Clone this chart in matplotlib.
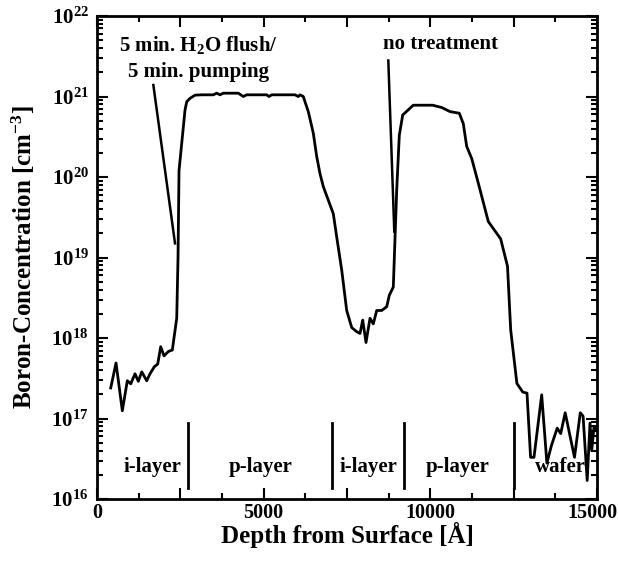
import numpy as np
import matplotlib
matplotlib.use("Agg")
import matplotlib.pyplot as plt
import matplotlib.transforms as mtransforms
from matplotlib.ticker import MultipleLocator, LogLocator, FuncFormatter, NullFormatter

plt.rcParams['font.family'] = ['Liberation Serif', 'DejaVu Serif']
plt.rcParams['font.weight'] = 'bold'
plt.rcParams['mathtext.fontset'] = 'custom'
plt.rcParams['mathtext.rm'] = 'Liberation Serif:bold'
plt.rcParams['mathtext.it'] = 'Liberation Serif:italic:bold'
plt.rcParams['mathtext.bf'] = 'Liberation Serif:bold'
plt.rcParams['mathtext.default'] = 'rm'

# SIMS depth profile
depth = [411, 570, 759, 909, 1011, 1140, 1239, 1341, 1491, 1590, 1719, 1821,
         1911, 2010, 2139, 2259, 2391, 2430, 2460, 2640, 2691, 2790, 2940,
         3141, 3489, 3591, 3690, 3789, 3939, 4239, 4389, 4491, 5091, 5160,
         5241, 5940, 6039, 6090, 6189, 6240, 6339, 6489, 6591, 6690, 6789,
         7089, 7191, 7341, 7491, 7641, 7791, 7890, 7971, 8070, 8190, 8289,
         8391, 8541, 8691, 8769, 8889, 8991, 9069, 9171, 9489, 10071, 10341,
         10590, 10869, 10989, 11091, 11241, 11439, 11739, 11991, 12111, 12315,
         12411, 12597, 12774, 12900, 13008, 13110, 13341, 13497, 13632, 13806,
         13911, 14046, 14325, 14499, 14583, 14706, 14790, 14841, 14910, 15000]
boron = [2.4e17, 4.9e17, 1.25e17, 2.95e17, 2.7e17, 3.6e17, 2.9e17, 3.8e17,
         2.95e17, 3.6e17, 4.4e17, 4.75e17, 7.8e17, 6.0e17, 6.8e17, 7.1e17,
         1.76e18, 1.0e19, 1.2e20, 6.8e20, 8.6e20, 9.5e20, 1.04e21,
         1.05e21, 1.05e21, 1.1e21, 1.05e21, 1.1e21, 1.1e21, 1.1e21, 1.0e21,
         1.05e21, 1.05e21, 1.0e21, 1.05e21, 1.05e21, 1.0e21, 1.05e21, 1.0e21,
         8.6e20, 6.5e20, 3.5e20, 1.8e20, 1.1e20, 7.6e19, 3.5e19, 1.8e19,
         7.0e18, 2.2e18, 1.35e18, 1.2e18, 1.14e18, 1.67e18, 8.8e17, 1.76e18,
         1.5e18, 2.2e18, 2.2e18, 2.45e18, 3.4e18, 4.3e18, 6.9e19, 3.3e20,
         5.9e20, 7.8e20, 7.8e20, 7.3e20, 6.5e20, 6.2e20, 4.6e20, 2.4e20,
         1.7e20, 8.4e19, 2.8e19, 2.0e19, 1.7e19, 7.8e18, 1.26e18, 2.73e17,
         2.13e17, 2.07e17, 3.3e16, 3.3e16, 1.97e17, 2.8e16, 4.6e16, 7.6e16,
         6.5e16, 1.18e17, 3.3e16, 1.18e17, 1.07e17, 1.7e16, 8.8e16, 4.0e16,
         7.9e16, 7.2e16]

x_ticks = [0, 2500, 5000, 7500, 10000, 12500, 15000]
x_tick_labels = ["0", "", "5000", "", "10000", "", "15000"]

layer_bounds = [2730, 7050, 9210, 12510]
layer_names = ["i-layer", "p-layer", "i-layer", "p-layer", "wafer"]
layer_label_x = [1650, 4900, 8130, 10830, 13900]

fig = plt.figure(figsize=(6.18, 5.62), dpi=100)
ax = fig.add_axes([0.157, 0.112, 0.809, 0.8595])

ax.plot(depth, boron, color='black', linewidth=2)

# pointer lines of the annotations
ax.plot([1690, 2340], [1.39e21, 1.5e19], color='black', linewidth=1.8)
ax.plot([8739, 8919], [2.8e21, 2.1e19], color='black', linewidth=1.8)
ax.text(3040, 10**21.64, "5 min. H$_2$O flush/", ha='center', va='center',
        fontsize=15, fontweight='bold')
ax.text(3040, 10**21.30, "5 min. pumping", ha='center', va='center',
        fontsize=15, fontweight='bold')
ax.text(10320, 10**21.65, "no treatment", ha='center', va='center',
        fontsize=15, fontweight='bold')

for xb in layer_bounds:
    ax.plot([xb, xb], [1.37e16, 8.7e16], color='black', linewidth=2)
for name, xl in zip(layer_names, layer_label_x):
    ax.text(xl, 10**16.4, name, ha='center', va='center',
            fontsize=15, fontweight='bold')

ax.set_yscale('log')
ax.set_xlim(0, 15000)
ax.set_ylim(1e16, 1e22)

ax.set_xticks(x_ticks, x_tick_labels)
ax.xaxis.set_minor_locator(MultipleLocator(1250))
ax.yaxis.set_major_locator(LogLocator(base=10, numticks=10))
ax.yaxis.set_minor_locator(LogLocator(base=10, subs=np.arange(2, 10), numticks=20))
ax.yaxis.set_minor_formatter(NullFormatter())
ax.yaxis.set_major_formatter(FuncFormatter(
    lambda v, p: r"$10^{%d}$" % int(round(np.log10(v)))))

ax.tick_params(which='both', direction='in', top=True, right=True,
               width=1.5)
ax.tick_params(axis='y', labelsize=15, pad=6)
ax.tick_params(axis='x', labelsize=14.5, pad=3)
ax.tick_params(which='major', length=8)
ax.tick_params(which='minor', length=4)
for lbl in ax.get_xticklabels() + ax.get_yticklabels():
    lbl.set_fontweight('bold')
for sp in ax.spines.values():
    sp.set_linewidth(2)

# keep "15000" inside the figure
last = ax.xaxis.get_major_ticks()[-1].label1
last.set_transform(last.get_transform() +
                   mtransforms.ScaledTranslation(-0.05, 0, fig.dpi_scale_trans))

ax.set_xlabel("Depth from Surface [Å]", fontsize=18, fontweight='bold', labelpad=-1)
ax.set_ylabel("Boron-Concentration [cm$^{-3}$]", fontsize=18,
              fontweight='bold', labelpad=10)

fig.savefig("out.png", dpi=100)
